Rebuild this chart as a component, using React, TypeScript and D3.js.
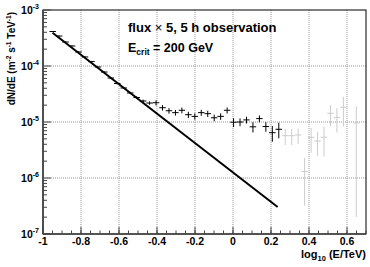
import React from "react";
import * as d3 from "d3";

// bin centres in log10(E/TeV) and measured flux (m^-2 s^-1 TeV^-1)
const logE = [-0.949, -0.915, -0.881, -0.847, -0.813, -0.779, -0.745, -0.711, -0.677, -0.643,
  -0.609, -0.575, -0.541, -0.507, -0.473, -0.439, -0.405, -0.371, -0.337, -0.303,
  -0.269, -0.235, -0.201, -0.167, -0.133, -0.099, -0.065, -0.031, 0.003, 0.037,
  0.071, 0.105, 0.139, 0.173, 0.207, 0.241];
const flux = [4.13e-4, 3.43e-4, 2.68e-4, 2.28e-4, 1.78e-4, 1.45e-4, 1.2e-4, 9.6e-5, 7.8e-5, 6.1e-5,
  4.87e-5, 4.05e-5, 3.3e-5, 2.74e-5, 2.37e-5, 2.18e-5, 2.21e-5, 1.8e-5, 1.59e-5, 1.47e-5,
  1.62e-5, 1.35e-5, 1.26e-5, 1.47e-5, 1.41e-5, 1.19e-5, 1.26e-5, 1.62e-5, 9.9e-6, 1.0e-5,
  1.09e-5, 8.2e-6, 1.15e-5, 8.3e-6, 6.44e-6, 7.41e-6];
const fluxErr = [8e-6, 7e-6, 5e-6, 5e-6, 4e-6, 3e-6, 3e-6, 2.5e-6, 2e-6, 1.8e-6,
  1.7e-6, 1.6e-6, 1.5e-6, 1.4e-6, 1.4e-6, 1.5e-6, 2.4e-6, 2.0e-6, 1.8e-6, 1.7e-6,
  1.9e-6, 1.7e-6, 1.6e-6, 1.8e-6, 1.8e-6, 1.6e-6, 1.7e-6, 2.0e-6, 1.8e-6, 1.6e-6,
  1.5e-6, 1.7e-6, 1.6e-6, 1.6e-6, 2.0e-6, 2.3e-6];

// low-significance bins (drawn in grey)
const logEFaint = [0.275, 0.309, 0.343, 0.377, 0.411, 0.445, 0.479, 0.513, 0.547, 0.581, 0.649];
const fluxFaint = [5.69e-6, 5.69e-6, 5.86e-6, 1.3e-6, 5.33e-6, 4.58e-6, 5.33e-6, 1.43e-5, 1.21e-5, 1.83e-5, 9.6e-6];
const fluxErrFaint = [1.8e-6, 1.8e-6, 1.8e-6, 9.8e-7, 2.5e-6, 2.1e-6, 2.9e-6, 5.8e-6, 5.6e-6, 1.0e-5, 9.4e-6];

// power-law reference line end points
const lineLogE = [-0.95, 0.235];
const lineFlux = [3.93e-4, 3.03e-7];

const binWidth = 0.034;
const xTicks = [-1, -0.8, -0.6, -0.4, -0.2, 0, 0.2, 0.4, 0.6];
const xTickLabels = ["-1", "-0.8", "-0.6", "-0.4", "-0.2", "0", "0.2", "0.4", "0.6"];
const yExponents = [-3, -4, -5, -6, -7];

const W = 370;
const H = 267;
const left = 43, right = 366, top = 10, bottom = 234;
const font = "'Liberation Sans', Arial, sans-serif";

export default function App() {
  const x = d3.scaleLinear().domain([-1, 0.7]).range([left, right]);
  const y = d3.scaleLog().domain([1e-7, 1e-3]).range([bottom, top]);
  const yc = (v: number) => (v <= 1e-7 ? bottom : Math.min(bottom, y(v)));

  const minorX = d3.range(-1, 0.7001, 0.05).map((v) => +v.toFixed(3));
  const minorY: number[] = [];
  [-7, -6, -5, -4].forEach((e) => {
    for (let m = 2; m <= 9; m++) minorY.push(m * Math.pow(10, e));
  });

  const line = d3.line<number>()
    .x((_, i) => x(lineLogE[i]))
    .y((d) => y(d));

  const cross = (e: number, f: number, s: number, color: string, key: string) => (
    <g key={key} stroke={color} strokeWidth={1}>
      <line x1={x(e - binWidth / 2)} x2={x(e + binWidth / 2)} y1={y(f)} y2={y(f)} />
      <line x1={x(e)} x2={x(e)} y1={yc(f + s)} y2={yc(f - s)} />
    </g>
  );

  return (
    <svg width={W} height={H} style={{ position: "absolute", left: 0, top: 0, background: "#fff" }}
      fontFamily={font} fontWeight="bold">
      {/* grid */}
      <g stroke="#999" strokeWidth={1} strokeDasharray="1,1">
        {xTicks.slice(1).map((t) => (
          <line key={"gx" + t} x1={x(t)} x2={x(t)} y1={top} y2={bottom} />
        ))}
        {yExponents.slice(1, -1).map((e) => (
          <line key={"gy" + e} x1={left} x2={right} y1={y(Math.pow(10, e))} y2={y(Math.pow(10, e))} />
        ))}
      </g>

      {/* frame */}
      <rect x={left} y={top} width={right - left} height={bottom - top} fill="none" stroke="#000" strokeWidth={1} />
      <line x1={left} x2={left} y1={top} y2={bottom} stroke="#444" strokeWidth={1.6} />
      <line x1={left} x2={right} y1={bottom} y2={bottom} stroke="#444" strokeWidth={1.6} />

      {/* ticks */}
      <g stroke="#444" strokeWidth={1}>
        {minorX.map((t) => (
          <line key={"mx" + t} x1={x(t)} x2={x(t)} y1={bottom} y2={bottom - 3.5} />
        ))}
        {xTicks.map((t) => (
          <line key={"tx" + t} x1={x(t)} x2={x(t)} y1={bottom} y2={bottom - 7} />
        ))}
        {minorY.map((v, i) => (
          <line key={"my" + i} x1={left} x2={left + 4} y1={y(v)} y2={y(v)} />
        ))}
        {yExponents.map((e) => (
          <line key={"ty" + e} x1={left} x2={left + 8} y1={y(Math.pow(10, e))} y2={y(Math.pow(10, e))} />
        ))}
      </g>

      {xTickLabels.map((l, i) => (
        <text key={"lx" + l} x={x(xTicks[i])} y={245} fontSize={10.5} textAnchor="middle">{l}</text>
      ))}
      {yExponents.map((e) => (
        <text key={"ly" + e} x={39} y={y(Math.pow(10, e)) + 4} fontSize={10.5} textAnchor="end">
          10<tspan fontSize={7} dy={-5}>{e}</tspan>
        </text>
      ))}

      {/* axis titles */}
      <text x={366} y={258} fontSize={11} textAnchor="end">
        log<tspan fontSize={7.5} dy={3}>10</tspan><tspan dy={-3}> (E/TeV)</tspan>
      </text>
      <text transform="translate(15,12) rotate(-90)" fontSize={10} textAnchor="end">
        dN/dE  (m<tspan fontSize={6.5} dy={-4}>-2</tspan><tspan dy={4}> s</tspan>
        <tspan fontSize={6.5} dy={-4}>-1</tspan><tspan dy={4}> TeV</tspan>
        <tspan fontSize={6.5} dy={-4}>-1</tspan><tspan dy={4}>)</tspan>
      </text>

      {/* legend text */}
      <text x={128} y={32} fontSize={13}>flux <tspan fontWeight="normal">×</tspan> 5, 5 h observation</text>
      <text x={128} y={52} fontSize={12.5}>
        E<tspan fontSize={8.5} dy={3}>crit</tspan><tspan dy={-3}> = 200 GeV</tspan>
      </text>

      {/* data */}
      {logEFaint.map((e, i) => cross(e, fluxFaint[i], fluxErrFaint[i], "#cccccc", "f" + i))}
      {logE.map((e, i) => cross(e, flux[i], fluxErr[i], "#000", "d" + i))}

      {/* power law */}
      <path d={line(lineFlux) || ""} fill="none" stroke="#000" strokeWidth={2} />
    </svg>
  );
}
